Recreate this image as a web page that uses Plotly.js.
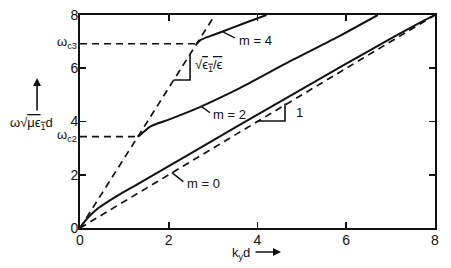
<!DOCTYPE html>
<html>
<head>
<meta charset="utf-8">
<script src="https://cdn.plot.ly/plotly-3.0.1.min.js"></script>
<style>html,body{margin:0;padding:0;background:#fff;}</style>
</head>
<body>
<div id="chart" style="width:451px;height:268px;"></div>
<script>
// ---- data ----
const xM0 = [0, 0.15, 0.4, 0.8, 1.3, 2.0, 3.0, 4.0, 5.0, 6.0, 7.0, 7.6, 8.0];
const yM0 = [0, 0.33, 0.73, 1.17, 1.65, 2.32, 3.29, 4.26, 5.22, 6.17, 7.11, 7.66, 8.0];
const xM2 = [1.31, 1.45, 1.58, 2.03, 2.70, 3.60, 4.80, 5.80, 6.71];
const yM2 = [3.43, 3.63, 3.81, 4.09, 4.54, 5.25, 6.32, 7.17, 8.0];
const xM4 = [2.63, 2.72, 2.85, 3.0, 3.23, 3.7, 4.2];
const yM4 = [6.92, 7.06, 7.16, 7.25, 7.39, 7.69, 8.0];
const xLight1 = [0, 8];          // slope-1 light line
const yLight1 = [0, 8];
const xLight2 = [0, 3.04];       // slope sqrt(eps1/eps) light line
const yLight2 = [0, 8];
const wc2 = 3.43, wc3 = 6.92;
const xCut2 = [0, 1.31], yCut2 = [wc2, wc2];
const xCut3 = [0, 2.63], yCut3 = [wc3, wc3];
// slope triangles
const xTri1 = [2.11, 2.48, 2.48], yTri1 = [5.56, 5.56, 6.52];
const xTri2 = [4.0, 4.62, 4.62], yTri2 = [4.02, 4.02, 4.68];
// label leader lines
const xLead4 = [3.22, 3.49], yLead4 = [7.37, 7.14];
const xLead2 = [2.74, 2.93], yLead2 = [4.56, 4.33];
const xLead0 = [2.07, 2.33], yLead0 = [2.08, 1.74];
const tickVals = [0, 2, 4, 6, 8];
const tickText = ['0', '2', '4', '6', '8'];

const K = '#111';
const dash = '7px,5px';
function ln(x, y, opt) {
  return Object.assign({x: x, y: y, type: 'scatter', mode: 'lines', hoverinfo: 'skip',
    line: Object.assign({color: K, width: 1.7}, opt || {}), showlegend: false, cliponaxis: false});
}
const traces = [
  ln(xLight1, yLight1, {dash: dash}),
  ln(xLight2, yLight2, {dash: dash}),
  ln(xCut2, yCut2, {dash: dash}),
  ln(xCut3, yCut3, {dash: dash}),
  ln(xM0, yM0, {width: 2, shape: 'spline', smoothing: 0.6}),
  ln(xM2, yM2, {width: 2, shape: 'spline', smoothing: 0.6}),
  ln(xM4, yM4, {width: 2, shape: 'spline', smoothing: 0.6}),
  ln(xTri1, yTri1, {width: 1.6}),
  ln(xTri2, yTri2, {width: 1.6}),
  ln(xLead4, yLead4, {width: 1.4}),
  ln(xLead2, yLead2, {width: 1.4}),
  ln(xLead0, yLead0, {width: 1.4})
];

const FAM = 'Liberation Sans, Arial, sans-serif';
const F = {family: FAM, size: 14, color: K};
const axis = {
  range: [0, 8], showgrid: false, zeroline: false, showline: true, linewidth: 2, linecolor: K,
  mirror: 'ticks', ticks: 'inside', ticklen: 6, tickwidth: 1.6, tickcolor: K,
  tickvals: tickVals, ticktext: tickText, tickfont: F, fixedrange: true
};
function ann(x, y, text, extra) {
  return Object.assign({x: x, y: y, xref: 'x', yref: 'y', text: text, showarrow: false,
    font: {family: FAM, size: 13, color: K}}, extra || {});
}
const layout = {
  width: 451, height: 268,
  margin: {l: 80, r: 16, t: 15, b: 40},
  paper_bgcolor: '#fff', plot_bgcolor: '#fff',
  xaxis: Object.assign({}, axis, {ticklabelstandoff: -2}),
  yaxis: Object.assign({}, axis, {ticklabelstandoff: -3}),
  annotations: [
    ann(-0.003, wc3 + 0.05, 'ω<sub>c3</sub>', {xref: 'paper', xanchor: 'right', yanchor: 'middle'}),
    ann(-0.003, wc2 + 0.05, 'ω<sub>c2</sub>', {xref: 'paper', xanchor: 'right', yanchor: 'middle'}),
    ann(3.54, 7.06, 'm = 4', {xanchor: 'left', yanchor: 'middle'}),
    ann(2.95, 4.28, 'm = 2', {xanchor: 'left', yanchor: 'middle'}),
    ann(2.37, 1.69, 'm = 0', {xanchor: 'left', yanchor: 'middle'}),
    ann(2.55, 6.12, '√<span style="text-decoration:overline">ϵ<sub>1</sub>/ϵ</span>', {xanchor: 'left', yanchor: 'middle'}),
    ann(4.94, 4.32, '1', {xanchor: 'center', yanchor: 'middle'}),
    ann(-0.138, 3.94, 'ω√<span style="text-decoration:overline">μϵ<sub>1</sub></span>d', {xref: 'paper', xanchor: 'center', yanchor: 'middle'}),
    {x: -0.121, y: 5.63, xref: 'paper', yref: 'y', text: '', showarrow: true, ax: 0, ay: 34,
     arrowhead: 2, arrowsize: 1, arrowwidth: 1.6, arrowcolor: K},
    ann(3.63, -0.122, 'k<sub>y</sub>d', {yref: 'paper', xanchor: 'center', yanchor: 'middle'}),
    {x: 4.53, y: -0.113, xref: 'x', yref: 'paper', text: '', showarrow: true, ax: -27, ay: 0,
     arrowhead: 2, arrowsize: 1, arrowwidth: 1.6, arrowcolor: K}
  ]
};
Plotly.newPlot('chart', traces, layout, {staticPlot: true, displayModeBar: false});
</script>
</body>
</html>
